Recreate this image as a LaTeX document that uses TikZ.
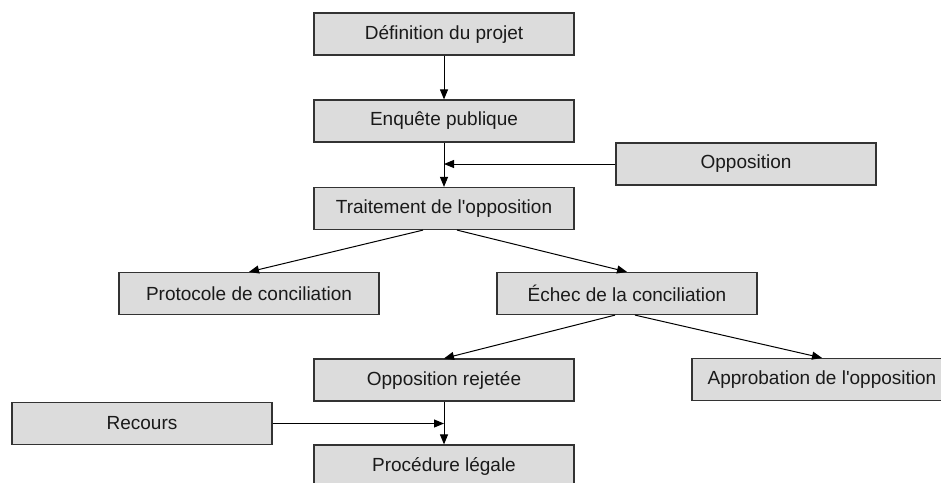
\documentclass[tikz,border=0pt]{standalone}
\usepackage{fontspec}
\setmainfont{Liberation Sans}
\usetikzlibrary{arrows.meta}
\definecolor{boxfill}{HTML}{DCDCDC}
\definecolor{boxdraw}{HTML}{333333}
\definecolor{txt}{HTML}{1A1A1A}
\tikzset{
  stepbox/.style={draw=boxdraw, fill=boxfill, line width=1.2pt, minimum width=260pt, minimum height=42pt, inner sep=0pt, text=txt, font=\fontsize{19}{23}\selectfont},
  arr/.style={draw=black, line width=1pt, -{Triangle[length=10pt,width=8pt]}}
}
\begin{document}
\begin{tikzpicture}[x=1pt,y=-1pt]
\useasboundingbox (0,0) rectangle (941,482);
\fill[white] (0,0) rectangle (941,482);
\begin{scope}
\clip (0,0) rectangle (941,482);
\node[stepbox] (def) at (444,34) {Définition du projet};
\node[stepbox] (enq) at (444,121) {Enquête publique};
\node[stepbox] (trait) at (444,208.5) {Traitement de l\textquotesingle opposition};
\node[stepbox] (oppo) at (746,164) {Opposition};
\node[stepbox] (proto) at (249,293.5) {Protocole de conciliation};
\node[stepbox] (echec) at (627,293.5) {Échec de la conciliation};
\node[stepbox] (rej) at (444,380) {Opposition rejetée};
\node[stepbox] (appro) at (822,379.5) {Approbation de l\textquotesingle opposition};
\node[stepbox] (recours) at (142,423.5) {Recours};
\node[stepbox] (proc) at (444,466) {Procédure légale};

\draw[arr] (def) -- (enq);
\draw[arr] (enq) -- (trait);
\draw[arr] (oppo.west) -- (oppo.west -| trait);
\draw[arr] ([xshift=-21pt]trait.south) -- (proto.north);
\draw[arr] ([xshift=13pt]trait.south) -- (echec.north);
\draw[arr] ([xshift=-12pt]echec.south) -- (rej.north);
\draw[arr] ([xshift=8pt]echec.south) -- (appro.north);
\draw[arr] (rej) -- (proc);
\draw[arr] (recours.east) -- (recours.east -| rej);
\end{scope}
\end{tikzpicture}
\end{document}
